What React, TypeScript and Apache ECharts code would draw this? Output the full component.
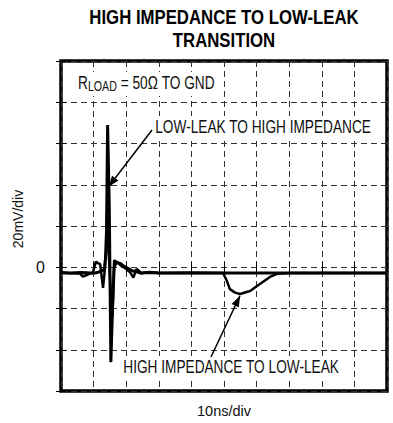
import React, { useEffect, useRef } from "react";
import * as echarts from "echarts";

// Time axis in ns (10 ns/div), voltage in mV (20 mV/div)
const xTicks = { min: 0, max: 100, interval: 10 };
const yTicks = { min: -60, max: 100, interval: 20 };

// LOW-LEAK TO HIGH IMPEDANCE trace
const timeA = [0, 3, 6, 8, 10, 11.5, 12.5, 13.3, 13.9, 14.3, 14.8, 15.3, 15.8, 16.3, 17, 18.2, 19.5, 20.8, 22, 23.3, 24.6, 26.5, 30, 40, 50, 60, 70, 80, 90, 100];
const voltA = [-2.6, -2.8, -2.5, -2.7, -2.9, -2.4, -1.8, -1, 8, 69, 30, -46, -20, 0, 2.5, 1.8, 0.3, -0.8, -1.8, -2.2, -2.9, -2.5, -2.8, -2.7, -2.8, -2.8, -2.8, -2.8, -2.8, -2.8];

// HIGH IMPEDANCE TO LOW-LEAK trace
const timeB = [0, 3, 5.8, 6.7, 8.3, 9.8, 10.7, 11.3, 12, 12.9, 13.5, 14.1, 15, 15.8, 16.3, 17.5, 18.6, 20.1, 21.2, 22.2, 23.2, 24.7, 27.3, 30, 40, 49.7, 50.9, 51.8, 53.4, 54.9, 58, 61, 64.1, 66.3, 70, 80, 90, 100];
const voltB = [-2.8, -2.9, -3, -4.5, -3.5, -2.5, 2.7, 2, 1.5, -10, 0, 27, -5, -24, 3.4, 2, 0.6, -1, -2.5, -5, -0.8, -2.8, -2.3, -2.8, -2.8, -2.8, -6.7, -10.6, -12.3, -13, -11.5, -8.1, -4.7, -3.2, -2.8, -2.8, -2.8, -2.8];

// Arrow tips (data coordinates)
const arrowTipA = [14.6, 39];
const arrowTipB = [54.9, -13.8];

const yZeroLabel = 0;

const FONT = "'Liberation Sans', Arial, sans-serif";

function toPairs(xs: number[], ys: number[]) {
  return xs.map((x, i) => [x, ys[i]]);
}

function arrowHead(tail: number[], tip: number[], len: number, width: number) {
  const dx = tip[0] - tail[0];
  const dy = tip[1] - tail[1];
  const d = Math.sqrt(dx * dx + dy * dy);
  const ux = dx / d;
  const uy = dy / d;
  const bx = tip[0] - ux * len;
  const by = tip[1] - uy * len;
  const nx = -uy * width / 2;
  const ny = ux * width / 2;
  return [tip, [bx + nx, by + ny], [bx - nx, by - ny]];
}

export default function App() {
  const ref = useRef<HTMLDivElement>(null);
  useEffect(() => {
    if (!ref.current) return;
    const chart = echarts.init(ref.current, undefined, { renderer: "svg" });
    const dashed = { type: [6, 4] as any, color: "#333", width: 1 };
    const tickStyle = { show: true, inside: true, length: 5, lineStyle: { color: "#000", width: 1 } };
    const option: any = {
      animation: false,
      backgroundColor: "#fff",
      grid: {
        left: 61,
        top: 61,
        width: 326,
        height: 330,
        show: true,
        borderColor: "#000",
        borderWidth: 3.5,
        backgroundColor: "transparent",
      },
      xAxis: [
        {
          type: "value",
          ...xTicks,
          axisLine: { show: false },
          axisTick: tickStyle,
          axisLabel: { show: false },
          splitLine: { show: true, lineStyle: dashed },
        },
        {
          type: "value",
          position: "top",
          ...xTicks,
          axisLine: { show: false },
          axisTick: tickStyle,
          axisLabel: { show: false },
          splitLine: { show: false },
        },
      ],
      yAxis: [
        {
          type: "value",
          ...yTicks,
          axisLine: { show: false },
          axisTick: tickStyle,
          axisLabel: {
            show: true,
            margin: 16,
            color: "#111",
            fontSize: 16,
            fontFamily: FONT,
            formatter: (v: number) => (v === yZeroLabel ? "0" : ""),
          },
          splitLine: { show: true, lineStyle: dashed },
        },
        {
          type: "value",
          position: "right",
          ...yTicks,
          axisLine: { show: false },
          axisTick: tickStyle,
          axisLabel: { show: false },
          splitLine: { show: false },
        },
      ],
      series: [
        {
          type: "line",
          data: toPairs(timeB, voltB),
          symbol: "none",
          lineStyle: { color: "#000", width: 2.5 },
          z: 3,
        },
        {
          type: "line",
          data: toPairs(timeA, voltA),
          symbol: "none",
          lineStyle: { color: "#000", width: 3 },
          z: 4,
        },
      ],
    };
    chart.setOption(option);

    const tipA = chart.convertToPixel({ gridIndex: 0 }, arrowTipA) as number[];
    const tipB = chart.convertToPixel({ gridIndex: 0 }, arrowTipB) as number[];
    const tailA = [152, 130];
    const tailB = [211, 357];
    const NARROW = 0.76;

    chart.setOption({
      graphic: [
        {
          type: "text",
          x: 224,
          y: 6,
          scaleX: 0.86,
          style: {
            text: "HIGH IMPEDANCE TO LOW-LEAK\nTRANSITION",
            font: `bold 19.5px ${FONT}`,
            fill: "#000",
            align: "center",
            verticalAlign: "top",
            lineHeight: 23,
          },
        },
        {
          type: "text",
          x: 18,
          y: 219,
          rotation: Math.PI / 2,
          style: {
            text: "20mV/div",
            font: `14px ${FONT}`,
            fill: "#111",
            align: "center",
            verticalAlign: "middle",
          },
        },
        {
          type: "text",
          x: 224,
          y: 411,
          style: {
            text: "10ns/div",
            font: `14.5px ${FONT}`,
            fill: "#111",
            align: "center",
            verticalAlign: "middle",
          },
        },
        {
          type: "text",
          x: 75,
          y: 72,
          scaleX: NARROW,
          z: 20,
          style: {
            text: "{r|R}{s|LOAD}{r| = 50Ω TO GND}",
            fill: "#111",
            align: "left",
            verticalAlign: "top",
            backgroundColor: "#fff",
            padding: [2, 4, 2, 4],
            rich: {
              r: { font: `18px ${FONT}`, lineHeight: 20, verticalAlign: "top", fill: "#111" },
              s: { font: `14px ${FONT}`, lineHeight: 19, verticalAlign: "bottom", fill: "#111", padding: [5, 0, 0, 0] },
            },
          },
        },
        {
          type: "text",
          x: 153,
          y: 127,
          scaleX: NARROW,
          z: 20,
          style: {
            text: "LOW-LEAK TO HIGH IMPEDANCE",
            font: `18px ${FONT}`,
            fill: "#111",
            align: "left",
            verticalAlign: "middle",
            backgroundColor: "#fff",
            padding: [2, 3, 2, 3],
          },
        },
        {
          type: "text",
          x: 121,
          y: 367,
          scaleX: NARROW,
          z: 20,
          style: {
            text: "HIGH IMPEDANCE TO LOW-LEAK",
            font: `18px ${FONT}`,
            fill: "#111",
            align: "left",
            verticalAlign: "middle",
            backgroundColor: "#fff",
            padding: [2, 3, 2, 3],
          },
        },
        {
          type: "line",
          shape: { x1: tailA[0], y1: tailA[1], x2: tipA[0], y2: tipA[1] },
          style: { stroke: "#000", lineWidth: 1.5 },
          z: 21,
        },
        {
          type: "polygon",
          shape: { points: arrowHead(tailA, tipA, 11, 8) },
          style: { fill: "#000" },
          z: 21,
        },
        {
          type: "line",
          shape: { x1: tailB[0], y1: tailB[1], x2: tipB[0], y2: tipB[1] },
          style: { stroke: "#000", lineWidth: 1.5 },
          z: 21,
        },
        {
          type: "polygon",
          shape: { points: arrowHead(tailB, tipB, 11, 8) },
          style: { fill: "#000" },
          z: 21,
        },
      ],
    });

    return () => chart.dispose();
  }, []);
  return <div ref={ref} style={{ width: 393, height: 423, position: "absolute", left: 0, top: 0 }} />;
}
